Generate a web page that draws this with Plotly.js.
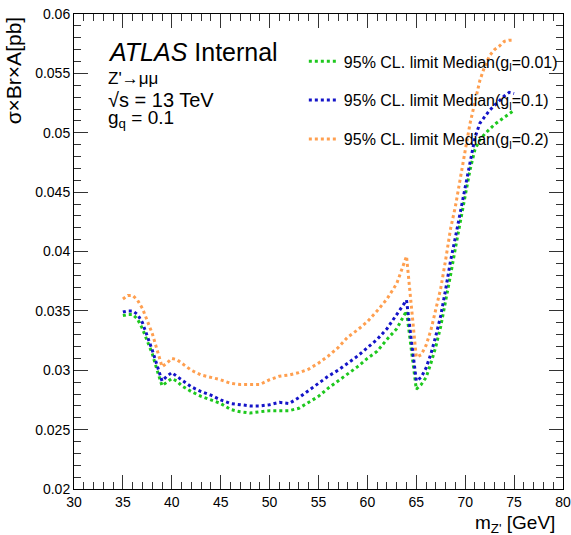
<!DOCTYPE html>
<html>
<head>
<meta charset="utf-8">
<script src="https://cdn.plot.ly/plotly-3.0.1.min.js"></script>
<style>html,body{margin:0;padding:0;background:#fff;}#chart{width:571px;height:535px;}</style>
</head>
<body>
<div id="chart"></div>
<script>
// Z' mass points [GeV]
const mass = [35, 35.5, 36, 36.5, 37, 37.5, 38, 38.5, 39, 39.5, 40, 40.5, 41, 42, 43, 44, 45, 46, 47, 48, 49, 50, 51, 52, 53, 54, 55, 56, 57, 58, 59, 60, 61, 62, 63, 64, 65, 65.5, 66, 66.5, 67, 67.5, 68, 68.5, 69, 69.5, 70, 70.5, 71, 71.5, 72, 72.5, 73, 73.5, 74, 74.5, 75];

// 95% CL limit median, g_l = 0.01
const limitGl001 = [0.0346, 0.0347, 0.0347, 0.0343, 0.0335, 0.0324, 0.0314, 0.0300, 0.0287, 0.0290, 0.0293, 0.0291, 0.0287, 0.0282, 0.0278, 0.0275, 0.0272, 0.0267, 0.0265, 0.0264, 0.0265, 0.0266, 0.0266, 0.0266, 0.0268, 0.0273, 0.0278, 0.0285, 0.0291, 0.0297, 0.0303, 0.0310, 0.0316, 0.0326, 0.0335, 0.0350, 0.0284, 0.0288, 0.0294, 0.0306, 0.0320, 0.0337, 0.0357, 0.0380, 0.0403, 0.0424, 0.0447, 0.0469, 0.0486, 0.0494, 0.0499, 0.0503, 0.0507, 0.0510, 0.0513, 0.0516, 0.0519];

// 95% CL limit median, g_l = 0.1
const limitGl01 = [0.0349, 0.0350, 0.0350, 0.0347, 0.0340, 0.0329, 0.0317, 0.0304, 0.0291, 0.0295, 0.0298, 0.0295, 0.0292, 0.0286, 0.0282, 0.0279, 0.0275, 0.0272, 0.0271, 0.0270, 0.0270, 0.0271, 0.0273, 0.0272, 0.0277, 0.0283, 0.0289, 0.0295, 0.0300, 0.0306, 0.0312, 0.0319, 0.0326, 0.0335, 0.0347, 0.0359, 0.0291, 0.0294, 0.0302, 0.0314, 0.0329, 0.0346, 0.0368, 0.0392, 0.0412, 0.0433, 0.0457, 0.0476, 0.0496, 0.0508, 0.0514, 0.0519, 0.0523, 0.0527, 0.0531, 0.0534, 0.0533];

// 95% CL limit median, g_l = 0.2
const limitGl02 = [0.0360, 0.0363, 0.0363, 0.0359, 0.0352, 0.0341, 0.0331, 0.0317, 0.0303, 0.0306, 0.0310, 0.0309, 0.0306, 0.0300, 0.0296, 0.0294, 0.0292, 0.0289, 0.0288, 0.0288, 0.0288, 0.0292, 0.0295, 0.0296, 0.0298, 0.0301, 0.0306, 0.0312, 0.0319, 0.0328, 0.0334, 0.0341, 0.0350, 0.0360, 0.0373, 0.0396, 0.0311, 0.0313, 0.0321, 0.0334, 0.0351, 0.0369, 0.0393, 0.0419, 0.0438, 0.0460, 0.0485, 0.0508, 0.0527, 0.0544, 0.0556, 0.0565, 0.0570, 0.0573, 0.0577, 0.0578, 0.0578];

const seriesNames = [
  "95% CL. limit Median(g<sub>l</sub>=0.01)",
  "95% CL. limit Median(g<sub>l</sub>=0.1)",
  "95% CL. limit Median(g<sub>l</sub>=0.2)"
];
const seriesData = [limitGl001, limitGl01, limitGl02];
const seriesColors = ["#1ec81e", "#1414c8", "#ff9f4f"];

const font = "Liberation Sans, Arial, Helvetica, sans-serif";

const traces = seriesData.map((y, i) => ({
  x: mass, y: y, type: "scatter", mode: "lines",
  name: seriesNames[i], legendgroup: "g" + i,
  line: {color: seriesColors[i], width: 3, dash: "3px,3px"},
  hoverinfo: "skip"
}));

const axisCommon = {
  showgrid: false, zeroline: false, showline: true, linecolor: "#000", linewidth: 1,
  mirror: "ticks", ticks: "inside", tickcolor: "#333", tickwidth: 1,
  tickfont: {family: font, size: 14, color: "#000"}
};

const layout = {
  width: 571, height: 535,
  margin: {l: 74, r: 8, t: 14, b: 46},
  paper_bgcolor: "#fff", plot_bgcolor: "#fff",
  showlegend: true,
  legend: {
    x: 0.47, y: 0.936, xanchor: "left", yanchor: "top",
    bgcolor: "rgba(0,0,0,0)", traceorder: "grouped", tracegroupgap: 15,
    font: {family: font, size: 16, color: "#000"}
  },
  xaxis: Object.assign({}, axisCommon, {
    range: [30, 80], dtick: 5, tick0: 30, ticklen: 14,
    minor: {dtick: 1, ticklen: 7, ticks: "inside", tickcolor: "#333"}
  }),
  yaxis: Object.assign({}, axisCommon, {
    range: [0.02, 0.06], dtick: 0.005, tick0: 0.02, ticklen: 14,
    minor: {dtick: 0.001, ticklen: 7, ticks: "inside", tickcolor: "#333"}
  }),
  annotations: [
    {xref: "paper", yref: "paper", x: 1, y: -0.074, xanchor: "right", yanchor: "middle", xshift: -6,
     text: "m<sub>Z'</sub> [GeV]", showarrow: false, font: {family: font, size: 19, color: "#000"}},
    {xref: "paper", yref: "paper", x: -0.124, y: 1.0, xanchor: "center", yanchor: "top", textangle: -90,
     text: "σ×Br×A[pb]", showarrow: false, font: {family: font, size: 21, color: "#000"}},
    {xref: "paper", yref: "paper", x: 0.066, y: 0.919, xanchor: "left", yanchor: "middle",
     text: "<i>ATLAS</i> Internal", showarrow: false, font: {family: font, size: 25, color: "#000"}},
    {xref: "paper", yref: "paper", x: 0.066, y: 0.865, xanchor: "left", yanchor: "middle",
     text: "Z'→μμ", showarrow: false, font: {family: font, size: 17, color: "#000"}},
    {xref: "paper", yref: "paper", x: 0.066, y: 0.818, xanchor: "left", yanchor: "middle",
     text: "√s = 13 TeV", showarrow: false, font: {family: font, size: 20, color: "#000"}},
    {xref: "paper", yref: "paper", x: 0.066, y: 0.778, xanchor: "left", yanchor: "middle",
     text: "g<sub>q</sub> = 0.1", showarrow: false, font: {family: font, size: 19, color: "#000"}}
  ]
};

Plotly.newPlot("chart", traces, layout, {displayModeBar: false, staticPlot: true});
</script>
</body>
</html>
